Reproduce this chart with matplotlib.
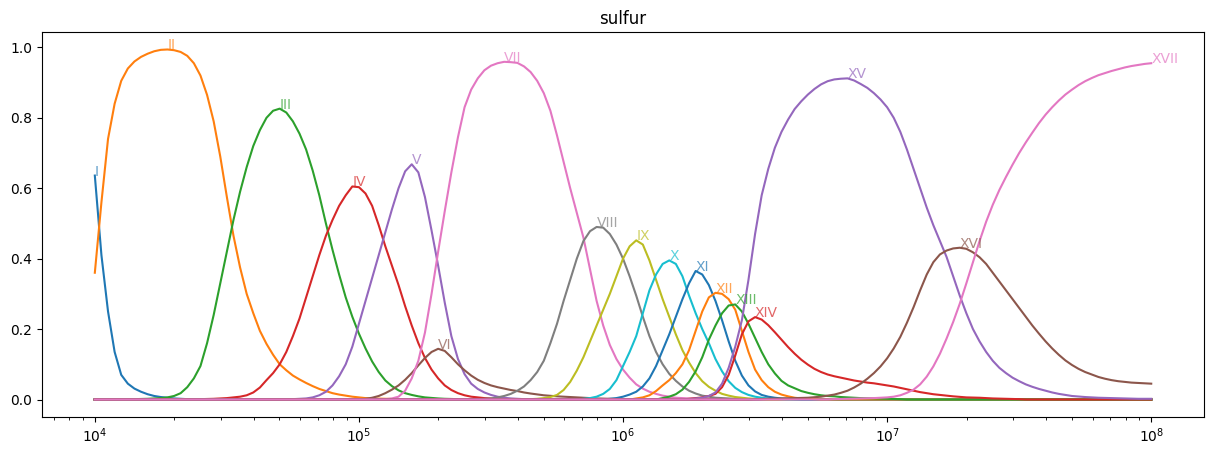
import numpy as np
import matplotlib
matplotlib.use("Agg")
import matplotlib.pyplot as plt

# temperature grid (log10 T), 0.025 dex steps from 1e4 to 1e8
log_temp = np.linspace(4.0, 8.0, 161)
step = 0.025

ion_names = ["I", "II", "III", "IV", "V", "VI", "VII", "VIII", "IX",
             "X", "XI", "XII", "XIII", "XIV", "XV", "XVI", "XVII"]

# log T where each ion's read-off values begin (zero outside)
ion_start = [4.00, 4.00, 4.15, 4.40, 4.75, 5.00, 5.10, 5.45, 5.65,
             5.85, 5.95, 6.05, 6.15, 6.25, 6.25, 6.50, 6.80]

frac_I = [0.636, 0.41, 0.25, 0.135, 0.07, 0.045, 0.031, 0.022, 0.015, 0.01,
          0.007, 0.005, 0.003, 0.002, 0.001]
frac_II = [0.36, 0.56, 0.74, 0.84, 0.905, 0.94, 0.96, 0.973, 0.982, 0.989,
           0.993, 0.994, 0.992, 0.987, 0.976, 0.955, 0.92, 0.865, 0.79, 0.69,
           0.575, 0.465, 0.375, 0.30, 0.245, 0.195, 0.158, 0.127, 0.10, 0.083,
           0.068, 0.057, 0.047, 0.038, 0.03, 0.024, 0.018, 0.014, 0.011, 0.008,
           0.006, 0.004, 0.003, 0.0025, 0.002, 0.0015, 0.001]
frac_III = [0.001, 0.0015, 0.002, 0.003, 0.004, 0.006, 0.01, 0.018, 0.035, 0.06,
            0.095, 0.16, 0.24, 0.33, 0.42, 0.51, 0.59, 0.66, 0.72, 0.765,
            0.80, 0.82, 0.826, 0.815, 0.79, 0.755, 0.71, 0.65, 0.58, 0.50,
            0.425, 0.355, 0.29, 0.235, 0.187, 0.145, 0.108, 0.078, 0.054, 0.038,
            0.026, 0.018, 0.013, 0.009, 0.006, 0.0045, 0.003, 0.002, 0.0015, 0.001,
            0.001]
frac_IV = [0.001, 0.0015, 0.002, 0.003, 0.004, 0.006, 0.008, 0.012, 0.02, 0.034,
           0.055, 0.075, 0.10, 0.135, 0.18, 0.23, 0.29, 0.35, 0.41, 0.465,
           0.51, 0.55, 0.58, 0.605, 0.603, 0.585, 0.55, 0.495, 0.435, 0.38,
           0.325, 0.265, 0.21, 0.16, 0.118, 0.085, 0.06, 0.04, 0.027, 0.018,
           0.012, 0.008, 0.006, 0.004, 0.003, 0.002, 0.001]
frac_V = [0.001, 0.002, 0.003, 0.006, 0.012, 0.022, 0.04, 0.066, 0.10, 0.15,
          0.215, 0.28, 0.345, 0.41, 0.475, 0.54, 0.60, 0.648, 0.668, 0.645,
          0.575, 0.48, 0.38, 0.275, 0.18, 0.115, 0.072, 0.045, 0.03, 0.02,
          0.013, 0.008, 0.005, 0.003, 0.002, 0.001]
frac_VI = [0.001, 0.002, 0.005, 0.01, 0.018, 0.028, 0.04, 0.056, 0.075, 0.097,
           0.118, 0.135, 0.144, 0.138, 0.12, 0.10, 0.083, 0.068, 0.056, 0.047,
           0.04, 0.035, 0.031, 0.027, 0.024, 0.02, 0.017, 0.0145, 0.012, 0.0105,
           0.009, 0.008, 0.007, 0.006, 0.005, 0.004, 0.003, 0.0025, 0.002, 0.0015,
           0.001]
frac_VII = [0.001, 0.003, 0.008, 0.025, 0.06, 0.11, 0.19, 0.30, 0.42, 0.535,
            0.645, 0.745, 0.83, 0.88, 0.912, 0.935, 0.948, 0.955, 0.959, 0.958,
            0.956, 0.946, 0.93, 0.905, 0.87, 0.82, 0.75, 0.675, 0.60, 0.53,
            0.46, 0.37, 0.28, 0.21, 0.155, 0.115, 0.085, 0.062, 0.043, 0.031,
            0.022, 0.016, 0.011, 0.008, 0.005, 0.004, 0.003, 0.002, 0.001]
frac_VIII = [0.001, 0.002, 0.003, 0.006, 0.01, 0.016, 0.025, 0.037, 0.055, 0.078,
             0.11, 0.16, 0.215, 0.28, 0.34, 0.40, 0.45, 0.478, 0.49, 0.488,
             0.47, 0.44, 0.40, 0.35, 0.295, 0.235, 0.18, 0.135, 0.10, 0.073,
             0.053, 0.037, 0.025, 0.017, 0.011, 0.008, 0.005, 0.004, 0.003, 0.002,
             0.001]
frac_IX = [0.001, 0.002, 0.004, 0.007, 0.013, 0.027, 0.05, 0.082, 0.12, 0.165,
           0.21, 0.255, 0.30, 0.35, 0.40, 0.435, 0.452, 0.44, 0.395, 0.34,
           0.285, 0.235, 0.185, 0.14, 0.105, 0.075, 0.052, 0.036, 0.025, 0.016,
           0.011, 0.007, 0.005, 0.003, 0.002, 0.001]
frac_X = [0.002, 0.004, 0.008, 0.016, 0.03, 0.055, 0.095, 0.135, 0.18, 0.245,
          0.31, 0.355, 0.385, 0.395, 0.385, 0.35, 0.295, 0.245, 0.20, 0.16,
          0.115, 0.08, 0.052, 0.033, 0.021, 0.013, 0.008, 0.005, 0.003, 0.002,
          0.001]
frac_XI = [0.002, 0.004, 0.008, 0.014, 0.022, 0.037, 0.06, 0.095, 0.14, 0.185,
           0.235, 0.285, 0.33, 0.365, 0.355, 0.325, 0.28, 0.225, 0.165, 0.11,
           0.068, 0.04, 0.023, 0.013, 0.008, 0.005, 0.003, 0.002, 0.001]
frac_XII = [0.003, 0.006, 0.012, 0.024, 0.04, 0.055, 0.075, 0.10, 0.14, 0.195,
            0.25, 0.29, 0.303, 0.30, 0.285, 0.255, 0.195, 0.135, 0.085, 0.055,
            0.035, 0.022, 0.014, 0.009, 0.005, 0.003, 0.002, 0.001]
frac_XIII = [0.004, 0.008, 0.015, 0.028, 0.05, 0.08, 0.12, 0.17, 0.21, 0.245,
             0.267, 0.27, 0.25, 0.215, 0.175, 0.135, 0.10, 0.074, 0.053, 0.04,
             0.032, 0.024, 0.019, 0.015, 0.012, 0.01, 0.009, 0.007, 0.006, 0.005,
             0.004, 0.0035, 0.003, 0.0025, 0.002, 0.0015, 0.001]
frac_XIV = [0.002, 0.004, 0.006, 0.01, 0.016, 0.035, 0.07, 0.125, 0.185, 0.222,
            0.234, 0.227, 0.211, 0.191, 0.17, 0.149, 0.13, 0.113, 0.099, 0.087,
            0.078, 0.071, 0.066, 0.062, 0.058, 0.054, 0.051, 0.048, 0.046, 0.043,
            0.04, 0.037, 0.033, 0.029, 0.025, 0.021, 0.018, 0.015, 0.013, 0.011,
            0.009, 0.0075, 0.006, 0.0055, 0.005, 0.004, 0.003, 0.0025, 0.002, 0.0015,
            0.001]
frac_XV = [0.001, 0.003, 0.005, 0.01, 0.02, 0.045, 0.09, 0.15, 0.225, 0.34,
           0.47, 0.58, 0.655, 0.715, 0.76, 0.795, 0.825, 0.847, 0.866, 0.882,
           0.895, 0.904, 0.909, 0.911, 0.912, 0.906, 0.896, 0.885, 0.87, 0.852,
           0.83, 0.80, 0.76, 0.71, 0.655, 0.60, 0.545, 0.495, 0.45, 0.405,
           0.35, 0.295, 0.245, 0.20, 0.165, 0.135, 0.11, 0.09, 0.075, 0.062,
           0.052, 0.043, 0.036, 0.03, 0.025, 0.02, 0.016, 0.013, 0.01, 0.0085,
           0.007, 0.006, 0.005, 0.0045, 0.004, 0.0035, 0.003, 0.0025, 0.002, 0.002,
           0.002]
frac_XVI = [0.001, 0.0015, 0.002, 0.0025, 0.003, 0.0035, 0.004, 0.0045, 0.005, 0.0065,
            0.008, 0.011, 0.014, 0.019, 0.025, 0.034, 0.045, 0.059, 0.075, 0.094,
            0.117, 0.145, 0.178, 0.218, 0.262, 0.31, 0.355, 0.39, 0.412, 0.423,
            0.429, 0.431, 0.428, 0.418, 0.404, 0.385, 0.36, 0.335, 0.31, 0.285,
            0.26, 0.235, 0.21, 0.187, 0.165, 0.145, 0.127, 0.111, 0.098, 0.087,
            0.078, 0.071, 0.064, 0.059, 0.055, 0.052, 0.05, 0.048, 0.047, 0.046,
            0.045]
frac_XVII = [0.001, 0.0015, 0.002, 0.0025, 0.003, 0.0035, 0.004, 0.005, 0.006, 0.008,
             0.012, 0.019, 0.028, 0.043, 0.065, 0.094, 0.13, 0.173, 0.22, 0.272,
             0.33, 0.39, 0.45, 0.505, 0.553, 0.595, 0.632, 0.667, 0.70, 0.73,
             0.758, 0.785, 0.809, 0.83, 0.849, 0.866, 0.88, 0.893, 0.904, 0.913,
             0.921, 0.927, 0.933, 0.938, 0.943, 0.947, 0.95, 0.953, 0.955]

fractions = [frac_I, frac_II, frac_III, frac_IV, frac_V, frac_VI, frac_VII,
             frac_VIII, frac_IX, frac_X, frac_XI, frac_XII, frac_XIII,
             frac_XIV, frac_XV, frac_XVI, frac_XVII]

temps = 10 ** log_temp

fig, ax = plt.subplots(figsize=(12.14, 4.55), dpi=100)
fig.subplots_adjust(left=0.0346, right=0.9918, bottom=0.0835, top=0.9297)

for name, start, vals in zip(ion_names, ion_start, fractions):
    y = np.zeros(len(log_temp))
    i0 = int(round((start - 4.0) / step))
    vals = vals[:len(y) - i0]
    y[i0:i0 + len(vals)] = vals
    line, = ax.plot(temps, y)
    k = np.argmax(y)
    ax.text(temps[k], y[k], name, color=line.get_color(), alpha=0.7)

ax.set_xscale("log")
ax.set_title("sulfur")

fig.savefig("out.png")
